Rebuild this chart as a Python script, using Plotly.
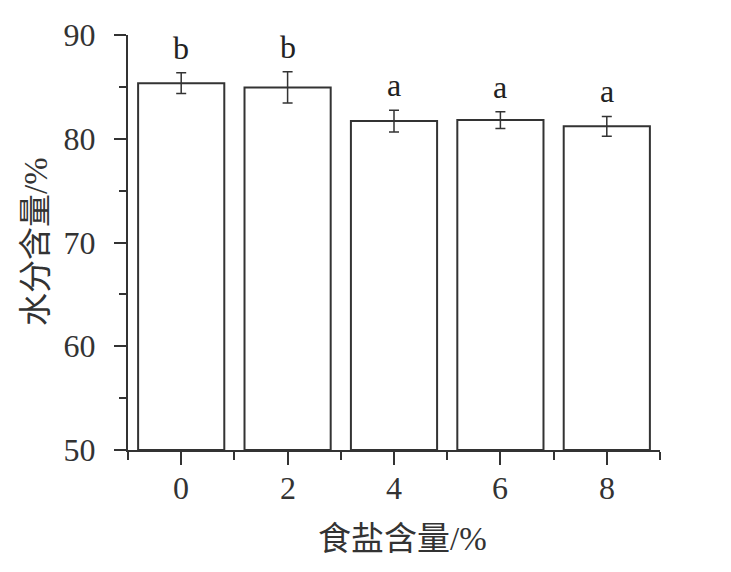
import plotly.graph_objects as go

# 数据
salt_labels = ["0", "2", "4", "6", "8"]
moisture = [85.35, 84.95, 81.7, 81.8, 81.2]
moisture_err = [1.0, 1.5, 1.05, 0.8, 0.95]
sig_letters = ["b", "b", "a", "a", "a"]

FONT = "Liberation Serif, Times New Roman, Noto Sans CJK SC"
INK = "#333333"

# 页面 body 默认有 8px 边距，这里补偿
L, T, PW, PH = 128 - 8, 35 - 8, 532, 415

xpos = list(range(len(salt_labels)))

fig = go.Figure()

fig.add_trace(go.Bar(
    x=xpos,
    y=[v - 50 for v in moisture],
    base=50,
    marker=dict(color="white", line=dict(color=INK, width=2)),
    error_y=dict(type="data", array=moisture_err, color=INK,
                 thickness=1.5, width=5),
    width=0.81,
    hoverinfo="skip",
))

# 显著性字母
for x, v, e, s in zip(xpos, moisture, moisture_err, sig_letters):
    fig.add_annotation(
        x=x, y=v + e, text=s, showarrow=False,
        yanchor="bottom", yshift=5,
        font=dict(family=FONT, size=32, color="#222222"),
    )

# x 轴刻度标签（注释，便于贴近轴线）
for x, lab in zip(xpos, salt_labels):
    fig.add_annotation(
        x=x, xref="x", y=0, yref="paper", text=lab, showarrow=False,
        yanchor="middle", yshift=-38,
        font=dict(family=FONT, size=32, color="#333333"),
    )

# 轴标题（用注释精确定位）
fig.add_annotation(
    xref="paper", yref="paper", x=(402 - 128) / PW, y=-(539 - 450) / PH,
    text="食盐含量/%", showarrow=False, xanchor="center", yanchor="middle",
    font=dict(family=FONT, size=33, color="#333333"),
)
fig.add_annotation(
    xref="paper", yref="paper", x=-(128 - 36) / PW, y=(450 - 242) / PH,
    text="水分含量/%", showarrow=False, textangle=-90,
    xanchor="center", yanchor="middle",
    font=dict(family=FONT, size=33, color="#333333"),
)

fig.update_layout(
    width=731, height=572,
    paper_bgcolor="white", plot_bgcolor="white",
    margin=dict(l=L, r=731 - L - PW, t=T, b=572 - T - PH),
    showlegend=False,
    font=dict(family=FONT, size=30, color="#333333"),
    xaxis=dict(
        range=[-0.5, 4.5], automargin=False,
        tickmode="array", tickvals=xpos, ticktext=salt_labels,
        showticklabels=False,
        ticks="outside", ticklen=13, tickwidth=2, tickcolor=INK,
        minor=dict(tickmode="array",
                   tickvals=[p + 0.5 for p in [-1] + xpos],
                   ticks="outside", ticklen=8, tickwidth=2, tickcolor=INK),
        showline=True, linecolor=INK, linewidth=2,
        showgrid=False, zeroline=False,
    ),
    yaxis=dict(
        range=[50, 90], automargin=False,
        tickmode="linear", tick0=50, dtick=10,
        ticks="outside", ticklen=12, tickwidth=2, tickcolor=INK,
        minor=dict(tick0=55, dtick=10, ticks="outside", ticklen=7,
                   tickwidth=2, tickcolor=INK),
        showline=True, linecolor=INK, linewidth=2,
        showgrid=False, zeroline=False,
        ticklabelstandoff=12,
        tickfont=dict(size=32),
    ),
)

fig.write_html("out.html")
